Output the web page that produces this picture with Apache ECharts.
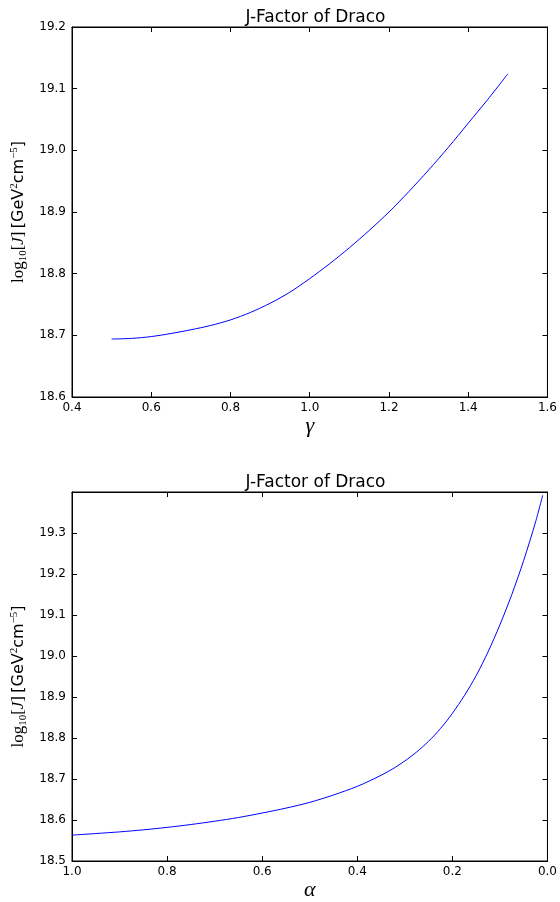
<!DOCTYPE html>
<html>
<head>
<meta charset="utf-8">
<title>J-Factor of Draco</title>
<script src="https://cdn.jsdelivr.net/npm/echarts@6/dist/echarts.min.js"></script>
<style>
  html, body { margin: 0; padding: 0; background: #fff; }
  #jfactor { width: 560px; height: 902px; }
</style>
</head>
<body>
<div id="jfactor"></div>
<script>
var gammaVals = [0.5, 0.55, 0.6, 0.65, 0.7, 0.75, 0.8, 0.85, 0.9, 0.95, 1.0,
  1.05, 1.1, 1.15, 1.2, 1.25, 1.3, 1.35, 1.4, 1.45, 1.5];//gamma
var jGamma = [18.694, 18.695, 18.698, 18.703, 18.709, 18.716, 18.725, 18.737, 18.752, 18.770, 18.792,
  18.816, 18.842, 18.870, 18.900, 18.933, 18.968, 19.005, 19.044, 19.083, 19.124];//log10 J vs gamma

var alphaVals = [1.0, 0.95, 0.9, 0.85, 0.8, 0.75, 0.7, 0.65, 0.6, 0.55, 0.5, 0.45, 0.4, 0.375, 0.35, 0.325,
  0.3, 0.275, 0.25, 0.225, 0.2, 0.175, 0.15, 0.125, 0.1, 0.075, 0.05, 0.025, 0.01];//alpha
var jAlpha = [18.563, 18.567, 18.571, 18.576, 18.582, 18.589, 18.597, 18.606, 18.617, 18.629, 18.643, 18.661, 18.682, 18.695, 18.709, 18.725,
  18.744, 18.766, 18.792, 18.823, 18.860, 18.903, 18.952, 19.010, 19.076, 19.150, 19.233, 19.327, 19.392];//log10 J vs alpha

var titleText = 'J-Factor of Draco';
var yTicksTop = [18.6, 19.2, 0.1];//min, max, step
var xTicksTop = [0.4, 1.6, 0.2];
var yTicksBottom = [18.5, 19.4, 0.1];
var xTicksBottom = [0.0, 1.0, 0.2];

var jfChart = '';

window.onload = function () {
  initChart();
  window.onresize = function () {
    if (jfChart) {
      jfChart.resize();
    }
  };
};

function pairs(xs, ys) {
  var out = [];
  for (var i = 0; i < xs.length; i++) {
    out.push([xs[i], ys[i]]);
  }
  return out;
}

var sansFont = 'DejaVu Sans';
var mathFont = 'Liberation Serif';

function tickFmt(hideMax, max) {
  return function (v) {
    if (hideMax && Math.abs(v - max) < 1e-6) return '';
    return v.toFixed(1);
  };
}

// 坐标轴（带刻度的主轴 + 只画刻度的对侧轴）
function makeAxis(gridIndex, pos, range, opts) {
  opts = opts || {};
  var main = (pos === 'bottom' || pos === 'left');
  return {
    type: 'value',
    gridIndex: gridIndex,
    position: pos,
    min: range[0],
    max: range[1],
    interval: range[2],
    inverse: !!opts.inverse,
    splitLine: { show: false },
    axisLine: { show: true, onZero: false, lineStyle: { color: '#000', width: 1 } },
    axisTick: { show: true, inside: true, length: 5, lineStyle: { color: '#000', width: 1 } },
    axisLabel: {
      show: main,
      color: '#000',
      fontFamily: sansFont,
      fontSize: 12,
      margin: pos === 'left' ? 6 : 5,
      formatter: tickFmt(opts.hideMax, range[1])
    },
    name: main ? opts.name : '',
    nameLocation: 'middle',
    nameGap: opts.nameGap,
    nameRotate: opts.nameRotate,
    nameTextStyle: opts.nameStyle
  };
}

var yName = '{m|log}{sub|10}{m|[}{i|J}{m|]} {t|[GeV}{sup|2}{t|cm}{sup|−5}{t|]}';
var yNameStyle = {
  rich: {
    m: { fontFamily: mathFont, fontSize: 17, color: '#000', lineHeight: 20 },
    i: { fontFamily: mathFont, fontStyle: 'italic', fontSize: 17, color: '#000', lineHeight: 20 },
    t: { fontFamily: sansFont, fontSize: 16, color: '#000', lineHeight: 20 },
    sub: { fontFamily: mathFont, fontSize: 11, color: '#000', verticalAlign: 'bottom', lineHeight: 20 },
    sup: { fontFamily: mathFont, fontSize: 11, color: '#000', verticalAlign: 'top', lineHeight: 20 }
  }
};
var xNameStyle = { fontFamily: mathFont, fontStyle: 'italic', fontSize: 22, color: '#000' };

function initChart() {
  jfChart = echarts.init(document.getElementById('jfactor'), null, { renderer: 'canvas' });
  var opt = {
    animation: false,
    backgroundColor: '#fff',
    title: [
      { text: titleText, left: 310.5, top: 4, textAlign: 'center',
        textStyle: { fontFamily: sansFont, fontSize: 17, fontWeight: 'normal', color: '#000' } },
      { text: titleText, left: 310.5, top: 469, textAlign: 'center',
        textStyle: { fontFamily: sansFont, fontSize: 17, fontWeight: 'normal', color: '#000' } }
    ],
    grid: [
      { left: 72, right: 11, top: 27, height: 370, show: true, borderColor: '#000', borderWidth: 1 },
      { left: 72, right: 11, top: 492, height: 369, show: true, borderColor: '#000', borderWidth: 1 }
    ],
    xAxis: [
      makeAxis(0, 'bottom', xTicksTop, { name: 'γ', nameGap: 17, nameStyle: xNameStyle }),
      makeAxis(0, 'top', xTicksTop),
      makeAxis(1, 'bottom', xTicksBottom, { inverse: true, name: 'α', nameGap: 17, nameStyle: xNameStyle }),
      makeAxis(1, 'top', xTicksBottom, { inverse: true })
    ],
    yAxis: [
      makeAxis(0, 'left', yTicksTop, { name: yName, nameGap: 35, nameRotate: 90, nameStyle: yNameStyle }),
      makeAxis(0, 'right', yTicksTop),
      makeAxis(1, 'left', yTicksBottom, { hideMax: true, name: yName, nameGap: 35, nameRotate: 90, nameStyle: yNameStyle }),
      makeAxis(1, 'right', yTicksBottom)
    ],
    series: [
      {
        type: 'line', xAxisIndex: 0, yAxisIndex: 0,
        data: pairs(gammaVals, jGamma),
        smooth: 0.3, showSymbol: false,
        lineStyle: { color: '#0000ff', width: 1 }
      },
      {
        type: 'line', xAxisIndex: 2, yAxisIndex: 2,
        data: pairs(alphaVals, jAlpha),
        smooth: 0.3, showSymbol: false,
        lineStyle: { color: '#0000ff', width: 1 }
      }
    ]
  };
  jfChart.setOption(opt);
}
</script>
</body>
</html>
